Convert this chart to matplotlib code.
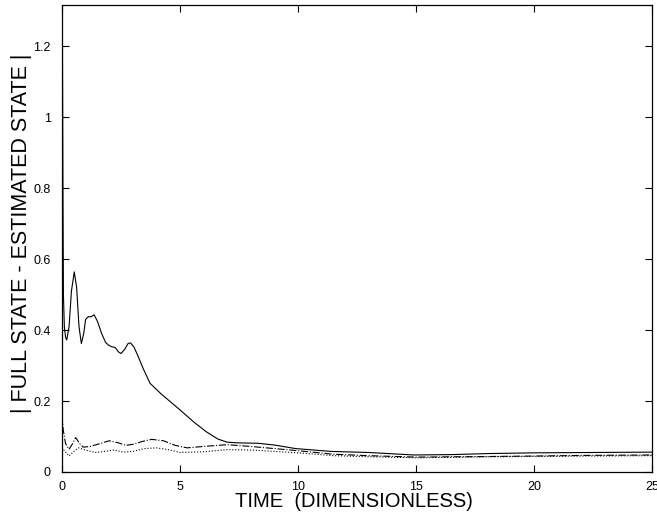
import matplotlib
matplotlib.use("Agg")
import matplotlib.pyplot as plt

plt.rcParams['font.family'] = ['Liberation Sans', 'DejaVu Sans']

# Solid curve: |full - estimated| (main)
t_solid = [0, 0.02, 0.04, 0.06, 0.1, 0.15, 0.2, 0.3, 0.4, 0.52, 0.62, 0.72, 0.82, 0.92,
           1.0, 1.12, 1.22, 1.36, 1.5, 1.68, 1.85, 1.96, 2.1, 2.25, 2.4, 2.5, 2.65,
           2.8, 2.9, 3.05, 3.2, 3.45, 3.73, 4.2, 5.0, 5.6, 6.1, 6.6, 7.0, 7.5, 8.3,
           9.0, 9.9, 11.4, 13.0, 14.9, 16.5, 18.1, 20.0, 22.5, 25.0]
y_solid = [1.2, 1.2, 0.8, 0.5, 0.41, 0.38, 0.372, 0.41, 0.51, 0.564, 0.52, 0.41, 0.362, 0.39,
           0.43, 0.438, 0.437, 0.443, 0.425, 0.39, 0.365, 0.358, 0.353, 0.351, 0.338, 0.334, 0.345,
           0.362, 0.364, 0.352, 0.33, 0.29, 0.25, 0.22, 0.175, 0.14, 0.114, 0.093, 0.084, 0.082, 0.081,
           0.076, 0.066, 0.058, 0.055, 0.048, 0.049, 0.052, 0.054, 0.055, 0.056]

# Dash-dot curve
t_dashdot = [0, 0.05, 0.15, 0.3, 0.45, 0.58, 0.75, 0.9, 1.2, 1.6, 2.0, 2.4, 2.7, 3.0,
             3.4, 3.8, 4.3, 4.8, 5.3, 6.0, 7.0, 8.0, 9.0, 10.0, 11.5, 13.0, 15.0, 17.0,
             20.0, 22.5, 25.0]
y_dashdot = [0.16, 0.12, 0.08, 0.064, 0.08, 0.097, 0.08, 0.07, 0.072, 0.08, 0.088, 0.082,
             0.075, 0.078, 0.086, 0.092, 0.088, 0.075, 0.068, 0.072, 0.077, 0.072, 0.066,
             0.06, 0.05, 0.046, 0.042, 0.043, 0.045, 0.047, 0.048]

# Dotted curve
t_dotted = [0, 0.1, 0.3, 0.5, 0.7, 1.0, 1.4, 1.8, 2.2, 2.6, 3.0, 3.5, 4.0, 4.5, 5.0,
            6.0, 7.0, 8.0, 9.0, 10.0, 11.5, 13.0, 15.0, 17.0, 20.0, 22.5, 25.0]
y_dotted = [0.07, 0.06, 0.045, 0.058, 0.068, 0.062, 0.055, 0.058, 0.062, 0.056, 0.058,
            0.066, 0.068, 0.063, 0.055, 0.057, 0.063, 0.062, 0.058, 0.054, 0.046, 0.043,
            0.04, 0.042, 0.044, 0.045, 0.046]

x_ticks = [0, 5, 10, 15, 20, 25]
x_ticklabels = ['0', '5', '10', '15', '20', '25']
y_ticks = [0, 0.2, 0.4, 0.6, 0.8, 1.0, 1.2]
y_ticklabels = ['0', '0.2', '0.4', '0.6', '0.8', '1', '1.2']

fig = plt.figure(figsize=(6.57, 5.2), dpi=100)
ax = fig.add_axes([62/657, 48/520, 590/657, 467/520])

ax.plot(t_solid, y_solid, color='black', lw=0.8, ls='-')
ax.plot(t_dashdot, y_dashdot, color='black', lw=0.8, ls='-.')
ax.plot(t_dotted, y_dotted, color='black', lw=0.8, ls=':')

ax.set_xlim(0, 25)
ax.set_ylim(0, 1.316)
ax.set_xticks(x_ticks)
ax.set_xticklabels(x_ticklabels, fontsize=9)
ax.set_yticks(y_ticks)
ax.set_yticklabels(y_ticklabels, fontsize=9)
ax.tick_params(direction='in', length=5, width=0.8, top=True, right=True)
ax.tick_params(axis='x', pad=6.5)
ax.tick_params(axis='y', pad=8)
for s in ax.spines.values():
    s.set_linewidth(0.9)

ax.set_xlabel('TIME  (DIMENSIONLESS)', fontsize=14.5)
ax.set_ylabel('| FULL STATE - ESTIMATED STATE |', fontsize=15.5)
ax.xaxis.set_label_coords(0.495, -0.0428)
ax.yaxis.set_label_coords(-0.051, 0.512)

fig.savefig('out.png', dpi=100)
